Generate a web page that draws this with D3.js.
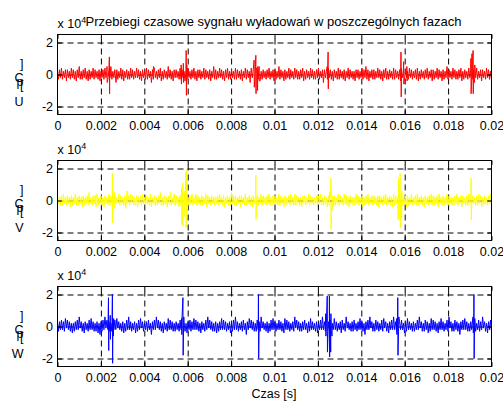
<!DOCTYPE html>
<html><head><meta charset="utf-8">
<script src="https://cdn.jsdelivr.net/npm/d3@7"></script>
<style>
body{margin:0;background:#fff}
svg{display:block}
text{font-family:"Liberation Sans",Arial,Helvetica,sans-serif;fill:#000}
</style>
</head><body>
<svg id="chart" width="503" height="401"></svg>
<script>
// Phase names and line colours
const phases = ["U", "V", "W"];
const phaseColors = ["#ff0000", "#ffff00", "#0000ff"];

// Axis ticks
const xTicks = [0, 0.002, 0.004, 0.006, 0.008, 0.01, 0.012, 0.014, 0.016, 0.018, 0.02];
const xTickLabels = ["0", "0.002", "0.004", "0.006", "0.008", "0.01", "0.012", "0.014", "0.016", "0.018", "0.02"];
const yTicks = [-20000, 0, 20000];
const yTickLabels = ["-2", "0", "2"];
const tEnd = 0.02;
const unit = 1000; // sample values below are stored in units of 1000 pC

// Background noise samples, evenly spaced over 0..tEnd
const noiseU = [
2,-3,3,-2,4,-3,2,-2,3,-4,3,-2,2,-3,4,-2,3,-3,2,-4,
3,-2,5,-3,2,-3,3,-2,4,-3,2,-4,3,-3,2,-2,4,-3,3,-2,
2,-3,3,-4,2,-2,3,-3,4,-2,2,-3,3,-2,5,-3,2,-2,3,-4,
3,-3,2,-2,4,-3,3,-4,2,-2,3,-3,2,-3,4,-2,3,-3,2,-2,
4,-2,3,-3,2,-4,3,-2,2,-3,4,-3,3,-2,2,-5,3,-3,4,-2,
2,-3,3,-2,4,-4,2,-3,3,-2,2,-3,5,-2,3,-3,2,-4,3,-2,
3,-2,2,-3,4,-3,3,-2,2,-4,3,-3,4,-2,2,-3,3,-2,4,-3,
2,-4,3,-2,3,-3,2,-2,4,-3,3,-2,2,-3,3,-4,2,-2,5,-3,
3,-3,2,-2,4,-2,3,-3,2,-4,3,-2,4,-3,2,-3,3,-2,2,-3,
4,-3,3,-2,2,-3,3,-4,2,-2,4,-3,3,-2,2,-3,4,-2,3,-3,
2,-2,3,-3,4,-4,2,-3,3,-2,2,-3,3,-2,4,-3,2,-2,3,-4,
3,-3,2,-2,5,-3,3,-2,2,-4,3,-3,2,-2,4,-3,3,-2,2,-3,
4,-2,3,-3,2,-3,3,-2,4,-4,2,-3,3,-2,2,-3,4,-2,3,-3,
2,-3,3,-2,4,-3,2,-2,3,-5,3,-2,2,-3,4,-2,3,-3,2,-4,
3,-2,2,-3,4,-3,3,-2,2,-3,3,-4,2,-2,4,-3,3,-2,2,-3,
2,-4,3,-2,3,-3,2,-2,4,-3,3,-2,5,-3,3,-4,2,-2,3,-3,
3,-3,2,-2,4,-2,3,-3,2,-4,3,-2,4,-3,2,-3,3,-2,2,-3,
4,-3,3,-2,2,-3,3,-4,2,-2,4,-3,3,-2,2,-3,4,-2,3,-3,
2,-2,3,-3,4,-4,2,-3,3,-2,2,-3,3,-2,4,-3,2,-2,3,-4,
3,-3,2,-2,4,-3,3,-2,2,-4,3,-3,2,-2,5,-3,3,-2,2,-3,
4,-2,3,-3,2,-3,3,-2,4,-4,2,-3,3,-2,2,-3,4,-2,3,-3,
2,-3,3,-2,4,-3,2,-2,3,-4,3,-2,2,-3,4,-2,3,-3,2,-3
];
const noiseV = [
3,-2,2,-3,3,-3,4,-2,2,-3,3,-2,2,-4,3,-3,2,-2,4,-3,
2,-3,3,-2,2,-4,3,-3,2,-2,3,-3,5,-2,2,-3,3,-2,3,-4,
4,-3,2,-2,3,-3,2,-4,3,-2,2,-3,4,-3,3,-2,2,-3,3,-2,
2,-2,4,-3,3,-2,2,-3,3,-5,2,-2,3,-3,4,-2,3,-3,2,-3,
3,-4,2,-2,3,-3,4,-2,2,-3,3,-2,2,-3,4,-4,2,-2,3,-3,
2,-3,3,-2,5,-3,2,-3,3,-2,2,-4,3,-2,3,-3,2,-2,4,-3,
3,-2,2,-4,3,-3,2,-2,4,-3,3,-2,2,-3,3,-2,4,-3,2,-2,
4,-3,3,-2,2,-3,3,-3,2,-2,4,-4,3,-2,2,-3,3,-2,2,-3,
2,-2,3,-3,4,-2,2,-3,3,-4,2,-2,3,-3,2,-3,5,-2,3,-3,
3,-3,2,-2,3,-4,3,-2,2,-3,4,-3,2,-2,3,-3,2,-4,3,-2,
2,-4,3,-3,2,-2,4,-3,3,-2,2,-3,3,-2,4,-3,2,-3,3,-2,
3,-2,2,-3,4,-3,3,-2,2,-4,3,-3,2,-2,3,-3,4,-2,2,-3,
4,-3,3,-2,2,-3,2,-4,3,-2,3,-3,2,-2,4,-3,3,-2,2,-3,
2,-2,3,-3,3,-2,4,-3,2,-3,3,-2,2,-4,3,-3,2,-2,3,-4,
3,-3,2,-2,4,-3,3,-2,2,-3,4,-2,3,-3,2,-4,3,-2,2,-3,
2,-3,4,-2,3,-3,2,-2,3,-4,2,-3,3,-2,4,-3,2,-2,3,-3,
3,-2,2,-3,3,-4,3,-2,2,-3,3,-2,4,-3,2,-2,3,-3,2,-4,
4,-3,3,-2,2,-3,3,-2,4,-3,2,-2,3,-4,3,-3,2,-2,4,-3,
2,-2,3,-3,4,-3,2,-2,3,-3,2,-4,3,-2,2,-3,3,-2,4,-3,
3,-3,2,-2,3,-4,4,-2,2,-3,3,-3,2,-2,4,-3,3,-2,2,-3,
2,-3,3,-2,4,-3,2,-2,3,-4,3,-2,2,-3,3,-3,4,-2,2,-3,
3,-2,2,-3,3,-3,4,-2,3,-4,2,-3,3,-2,2,-3,3,-2,4,-3
];
const noiseW = [
2,-3,3,-2,4,-2,3,-3,5,-1,4,-2,3,-3,2,-4,2,-3,3,-2,
4,-2,6,-1,3,-3,2,-4,3,-2,2,-3,4,-2,5,-2,3,-3,2,-3,
3,-4,2,-5,3,-3,4,-2,6,-1,4,-2,3,-3,2,-3,3,-2,4,-2,
5,-1,3,-2,2,-3,3,-4,2,-3,4,-2,6,-2,3,-3,2,-2,3,-4,
2,-3,4,-2,5,-1,3,-3,2,-2,3,-3,4,-2,2,-5,3,-2,4,-2,
6,-1,4,-2,3,-3,2,-4,3,-2,2,-3,5,-2,4,-2,3,-3,2,-3,
3,-2,2,-3,4,-2,6,-1,3,-3,2,-4,3,-2,4,-3,3,-2,5,-2,
4,-2,3,-3,2,-4,3,-2,2,-3,4,-2,6,-1,4,-2,3,-3,2,-3,
3,-4,2,-3,3,-2,5,-2,4,-2,3,-3,2,-2,3,-4,2,-3,4,-2,
6,-2,3,-3,2,-2,3,-3,4,-2,2,-5,3,-2,5,-1,4,-2,3,-3,
2,-3,4,-2,3,-3,6,-1,3,-2,2,-3,3,-4,2,-3,4,-2,5,-2,
3,-3,2,-2,4,-2,3,-3,2,-4,5,-2,4,-2,3,-3,2,-2,3,-3,
6,-1,4,-2,3,-3,2,-3,3,-2,4,-2,2,-4,3,-3,5,-2,3,-2,
2,-3,3,-4,2,-2,4,-2,6,-2,3,-3,2,-3,3,-2,4,-3,2,-2,
5,-2,3,-3,2,-2,3,-4,4,-2,2,-3,6,-1,3,-2,2,-3,3,-3,
4,-2,2,-3,3,-2,5,-2,3,-3,2,-5,3,-2,4,-2,6,-1,3,-3,
2,-3,4,-2,3,-3,2,-2,4,-3,5,-1,3,-3,2,-4,3,-2,4,-2,
6,-2,3,-3,2,-3,3,-2,4,-2,2,-4,3,-3,5,-2,3,-2,2,-3,
3,-3,2,-2,4,-2,6,-1,3,-3,2,-3,4,-2,3,-4,2,-3,5,-2,
4,-2,3,-3,2,-4,3,-2,5,-2,3,-3,2,-2,4,-3,6,-1,3,-3,
2,-3,4,-2,3,-3,2,-5,3,-2,4,-2,5,-2,3,-3,2,-3,3,-2,
5,-2,3,-3,2,-2,4,-3,3,-2,6,-1,3,-3,2,-4,3,-2,4,-3
];

// Discharge pulses: time [s] and value (units of 1000 pC)
const pulseTimeU = [0.00228,0.00229,0.00239,0.00240,0.00241,0.00270,0.00442,0.00570,0.00571,0.00580,0.00581,0.00593,0.00594,0.00596,
  0.00888,0.00906,0.00907,0.00914,0.00915,0.00916,0.00922,0.00923,0.00929,0.00930,0.01243,0.01247,0.01248,0.01249,
  0.01583,0.01584,0.01585,0.01595,0.01596,0.01610,0.01611,0.01905,0.01906,0.01910,0.01911,0.01915,0.01916,0.01917,0.01922,0.01923];
const pulseValueU = [5,-5,11,-12,4,-5,5,6,-6,7,-5,15,-13,6,
  -5,9,-8,12,-12,4,-10,5,5,-4,5,14,-9,3,
  14,-14,4,8,-6,5,-4,10,-12,13,-3,15,-12,3,-5,6];

const pulseTimeV = [0.00178,0.00252,0.00253,0.00254,0.00263,0.00264,0.00320,0.00522,0.00572,0.00573,0.00577,0.00578,0.00584,0.00585,
  0.00592,0.00593,0.00596,0.00597,0.00913,0.00914,0.00915,0.01254,0.01260,0.01261,0.01266,
  0.01570,0.01572,0.01573,0.01579,0.01580,0.01586,0.01587,0.01905,0.01906,0.01907];
const pulseValueV = [4,3,17,-14,5,-5,6,5,8,-15,11,-16,-10,6,
  18,-17,19,-8,2,16,-12,5,14,-18,-6,
  -12,14,-12,17,-17,-11,6,2,14,-12];

const pulseTimeW = [0.00235,0.00236,0.00243,0.00244,0.00253,0.00254,0.00258,0.00259,
  0.00572,0.00573,0.00578,0.00579,0.00582,0.00926,0.00927,
  0.01236,0.01237,0.01243,0.01244,0.01253,0.01254,0.01259,0.01260,0.01265,
  0.01563,0.01564,0.01568,0.01569,0.01573,0.01915,0.01916,0.01919,0.01920,0.01923];
const pulseValueW = [18,-15,7,-8,20,-23,-6,5,
  5,-5,18,-18,6,20,-20,
  8,-6,19,-16,19,-19,-16,8,-6,
  5,-5,18,-18,6,6,-4,20,-20,5];

const noiseSets = [noiseU, noiseV, noiseW];
const pulseTimes = [pulseTimeU, pulseTimeV, pulseTimeW];
const pulseValues = [pulseValueU, pulseValueV, pulseValueW];

// Layout
const left = 57.5, right = 491.5;
const panelTops = [34.5, 160.5, 286.5];
const panelH = 80;
const tickLen = 4.3;
const fontSize = 12.5;

const svg = d3.select("#chart");
const x = d3.scaleLinear().domain([0, tEnd]).range([left, right]);

function buildSeries(noise, pt, pv) {
  const step = tEnd / (noise.length - 1);
  const pts = noise.map((n, i) => ({t: i * step, v: n * unit}));
  pt.forEach((t, i) => pts.push({t: t, v: pv[i] * unit}));
  pts.sort((a, b) => a.t - b.t);
  return pts;
}

phases.forEach((phase, k) => {
  const top = panelTops[k], bottom = top + panelH;
  const y = d3.scaleLinear().domain([-25000, 25000]).range([bottom, top]);
  const g = svg.append("g");

  // dashed grid
  g.append("g").attr("transform", `translate(0,${bottom})`)
    .call(d3.axisBottom(x).tickValues(xTicks.slice(1, -1)).tickSize(-panelH).tickFormat(""))
    .call(s => { s.select(".domain").remove();
      s.selectAll("line").attr("stroke", "#000").attr("stroke-width", 1).attr("stroke-dasharray", "6,4"); });
  g.append("g").attr("transform", `translate(${left},0)`)
    .call(d3.axisLeft(y).tickValues(yTicks).tickSize(-(right - left)).tickFormat(""))
    .call(s => { s.select(".domain").remove();
      s.selectAll("line").attr("stroke", "#000").attr("stroke-width", 1).attr("stroke-dasharray", "6,4"); });

  // signal
  const clipId = "clip" + k;
  svg.append("clipPath").attr("id", clipId)
    .append("rect").attr("x", left).attr("y", top).attr("width", right - left).attr("height", panelH);
  const series = buildSeries(noiseSets[k], pulseTimes[k], pulseValues[k]);
  g.append("path").datum(series)
    .attr("clip-path", `url(#${clipId})`)
    .attr("fill", "none").attr("stroke", phaseColors[k]).attr("stroke-width", 1)
    .attr("d", d3.line().x(d => x(d.t)).y(d => y(d.v)));

  // axes with inward ticks
  const styleAxis = s => { s.select(".domain").remove();
    s.selectAll("line").attr("stroke", "#000");
    s.selectAll("text").attr("font-size", fontSize).attr("fill", "#000")
      .style("font-family", "'Liberation Sans', Arial, sans-serif"); };
  g.append("g").attr("transform", `translate(0,${bottom})`)
    .call(d3.axisBottom(x).tickValues(xTicks).tickSize(-tickLen).tickPadding(7)
      .tickFormat((d, i) => xTickLabels[i]))
    .call(styleAxis);
  g.append("g").attr("transform", `translate(0,${top})`)
    .call(d3.axisTop(x).tickValues(xTicks).tickSize(-tickLen).tickFormat(""))
    .call(styleAxis);
  g.append("g").attr("transform", `translate(${left},0)`)
    .call(d3.axisLeft(y).tickValues(yTicks).tickSize(-tickLen).tickPadding(4.5)
      .tickFormat((d, i) => yTickLabels[i]))
    .call(styleAxis);
  g.append("g").attr("transform", `translate(${right},0)`)
    .call(d3.axisRight(y).tickValues(yTicks).tickSize(-tickLen).tickFormat(""))
    .call(styleAxis);

  // box
  g.append("rect").attr("x", left).attr("y", top).attr("width", right - left).attr("height", panelH)
    .attr("fill", "none").attr("stroke", "#000").attr("stroke-width", 1);

  // exponent label
  const ex = g.append("text").attr("x", left).attr("y", top - 6.5).attr("font-size", fontSize);
  ex.append("tspan").text("x 10");
  ex.append("tspan").attr("font-size", 9).attr("dy", -5).text("4");

  // y label (stacked glyphs)
  const y0 = y(0);
  const glyphs = [["]", -6.5], ["C", 7], ["p", 11.5], ["[", 14], [phase, 31.5]];
  glyphs.forEach(([ch, dy]) => {
    g.append("text").attr("x", 23.5).attr("y", y0 + dy)
      .attr("text-anchor", "end").attr("font-size", fontSize).text(ch);
  });
});

// title and x label
svg.append("text").attr("x", 273.5).attr("y", 25.5).attr("text-anchor", "middle")
  .attr("font-size", 13).text("Przebiegi czasowe sygnału wyładowań w poszczególnych fazach");
svg.append("text").attr("x", 274).attr("y", 398).attr("text-anchor", "middle")
  .attr("font-size", fontSize).text("Czas [s]");
</script>
</body></html>
